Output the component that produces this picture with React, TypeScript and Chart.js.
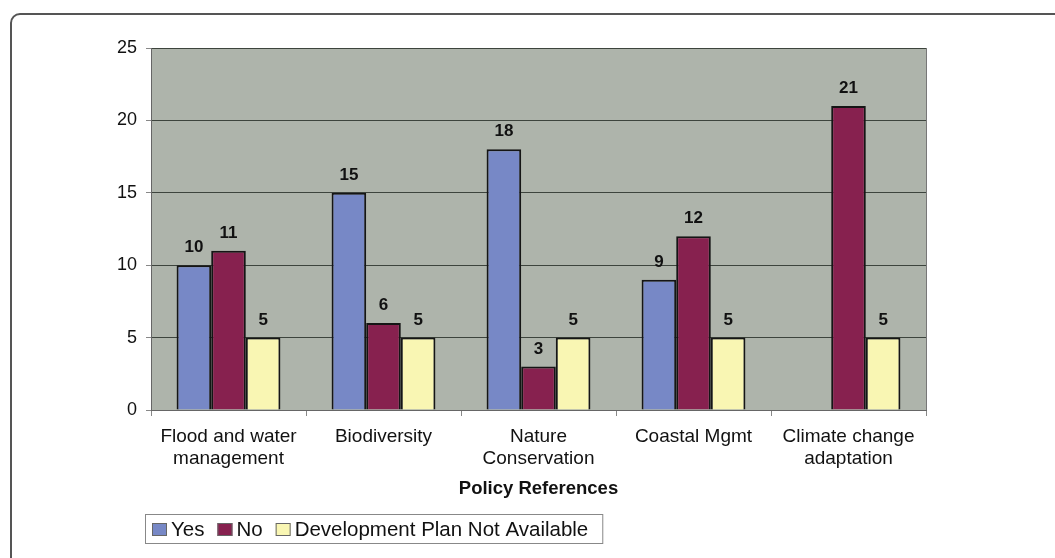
import React, { useEffect, useRef } from "react";
import { Chart, registerables } from "chart.js";

Chart.register(...registerables);

const categories: (string | string[])[] = [
  ["Flood and water", "management"],
  "Biodiversity",
  ["Nature", "Conservation"],
  "Coastal Mgmt",
  ["Climate change", "adaptation"],
];
const seriesNames = ["Yes", "No", "Development Plan Not Available"];
const yesValues = [10, 15, 18, 9, 0];
const noValues = [11, 6, 3, 12, 21];
const notAvailableValues = [5, 5, 5, 5, 5];
const yMin = 0;
const yMax = 25;
const yStep = 5;
const xTitle = "Policy References";

const FONT = "'Liberation Sans', Arial, Helvetica, sans-serif";
const COLORS = ["#7788c6", "#87214f", "#f9f6b3"];
const PLOT_BG = "#aeb4ab";

const plotBackground = {
  id: "plotBackground",
  beforeDraw(chart: any) {
    const { ctx, chartArea } = chart;
    if (!chartArea) return;
    ctx.save();
    ctx.fillStyle = PLOT_BG;
    ctx.fillRect(chartArea.left, chartArea.top, chartArea.right - chartArea.left, chartArea.bottom - chartArea.top);
    ctx.restore();
  },
};

const valueLabels = {
  id: "valueLabels",
  afterDatasetsDraw(chart: any) {
    const { ctx } = chart;
    ctx.save();
    ctx.font = `bold 17px ${FONT}`;
    ctx.fillStyle = "#111";
    ctx.textAlign = "center";
    ctx.textBaseline = "alphabetic";
    chart.data.datasets.forEach((ds: any, i: number) => {
      const meta = chart.getDatasetMeta(i);
      meta.data.forEach((el: any, j: number) => {
        const v = ds.data[j];
        if (!v) return;
        ctx.fillText(String(v), el.x, el.y - 13);
      });
    });
    ctx.restore();
  },
};

const plotFrame = {
  id: "plotFrame",
  afterDraw(chart: any) {
    const { ctx, chartArea } = chart;
    ctx.save();
    ctx.strokeStyle = "#777";
    ctx.lineWidth = 1;
    ctx.beginPath();
    ctx.moveTo(chartArea.right + 0.5, chartArea.top);
    ctx.lineTo(chartArea.right + 0.5, chartArea.bottom);
    ctx.stroke();
    ctx.restore();
  },
};

const boxLegend = {
  id: "boxLegend",
  afterDraw(chart: any) {
    const { ctx } = chart;
    ctx.save();
    ctx.font = `20.5px ${FONT}`;
    ctx.textBaseline = "alphabetic";
    ctx.textAlign = "left";
    const top = 514;
    const bottom = 543;
    const left = 145;
    let x = 152;
    let lastEnd = x;
    chart.data.datasets.forEach((ds: any) => {
      ctx.fillStyle = ds.backgroundColor;
      ctx.fillRect(x, 523, 15, 13);
      ctx.strokeStyle = "#666";
      ctx.lineWidth = 1;
      ctx.strokeRect(x + 0.5, 523.5, 14, 12);
      ctx.fillStyle = "#111";
      const tx = x + 19;
      ctx.fillText(ds.label, tx, 536);
      lastEnd = tx + ctx.measureText(ds.label).width;
      x = lastEnd + 13;
    });
    const right = lastEnd + 14;
    ctx.strokeStyle = "#888";
    ctx.lineWidth = 1;
    ctx.strokeRect(left + 0.5, top + 0.5, right - left, bottom - top);
    ctx.restore();
  },
};

export default function App() {
  const canvasRef = useRef<HTMLCanvasElement | null>(null);

  useEffect(() => {
    if (!canvasRef.current) return;
    const chart = new Chart(canvasRef.current, {
      type: "bar",
      data: {
        labels: categories,
        datasets: [
          { label: seriesNames[0], data: yesValues, backgroundColor: COLORS[0], borderColor: "#151515", borderWidth: 2 },
          { label: seriesNames[1], data: noValues, backgroundColor: COLORS[1], borderColor: "#151515", borderWidth: 2 },
          { label: seriesNames[2], data: notAvailableValues, backgroundColor: COLORS[2], borderColor: "#151515", borderWidth: 2 },
        ],
      },
      options: {
        responsive: false,
        animation: false,
        devicePixelRatio: 1,
        layout: { padding: { top: 48, left: 0, right: 129, bottom: 58 } },
        datasets: { bar: { categoryPercentage: 0.67, barPercentage: 1 } },
        plugins: {
          legend: { display: false },
          tooltip: { enabled: false },
        },
        scales: {
          x: {
            offset: true,
            grid: {
              display: true,
              drawOnChartArea: false,
              drawTicks: true,
              tickLength: 6,
              color: "#888",
              offset: true,
            },
            border: { display: true, color: "#666", width: 1 },
            ticks: {
              font: { size: 19, family: FONT },
              color: "#111",
              padding: 9,
              maxRotation: 0,
              autoSkip: false,
            },
            title: {
              display: true,
              text: xTitle,
              font: { size: 18.5, weight: "bold", family: FONT },
              color: "#111",
              padding: { top: 4, bottom: 0 },
            },
            afterFit: (s: any) => {
              s.height = 90;
            },
          },
          y: {
            min: yMin,
            max: yMax,
            ticks: {
              stepSize: yStep,
              font: { size: 18, family: FONT },
              color: "#111",
              padding: 9,
            },
            grid: {
              color: "#3d443d",
              lineWidth: 1,
              tickLength: 5,
              drawTicks: true,
              tickColor: "#888",
            },
            border: { display: true, color: "#666", width: 1 },
            afterFit: (s: any) => {
              s.width = 151;
            },
          },
        },
      } as any,
      plugins: [plotBackground, valueLabels, plotFrame, boxLegend],
    });
    return () => chart.destroy();
  }, []);

  return (
    <div
      style={{
        position: "fixed",
        left: 0,
        top: 0,
        width: 1055,
        height: 558,
        overflow: "hidden",
        background: "#fff",
      }}
    >
      <div
        style={{
          position: "absolute",
          left: 10,
          top: 13,
          width: 1100,
          height: 600,
          border: "2px solid #555",
          borderRadius: 10,
          boxSizing: "border-box",
        }}
      />
      <canvas
        ref={canvasRef}
        width={1055}
        height={558}
        style={{ position: "absolute", left: 0, top: 0 }}
      />
    </div>
  );
}
